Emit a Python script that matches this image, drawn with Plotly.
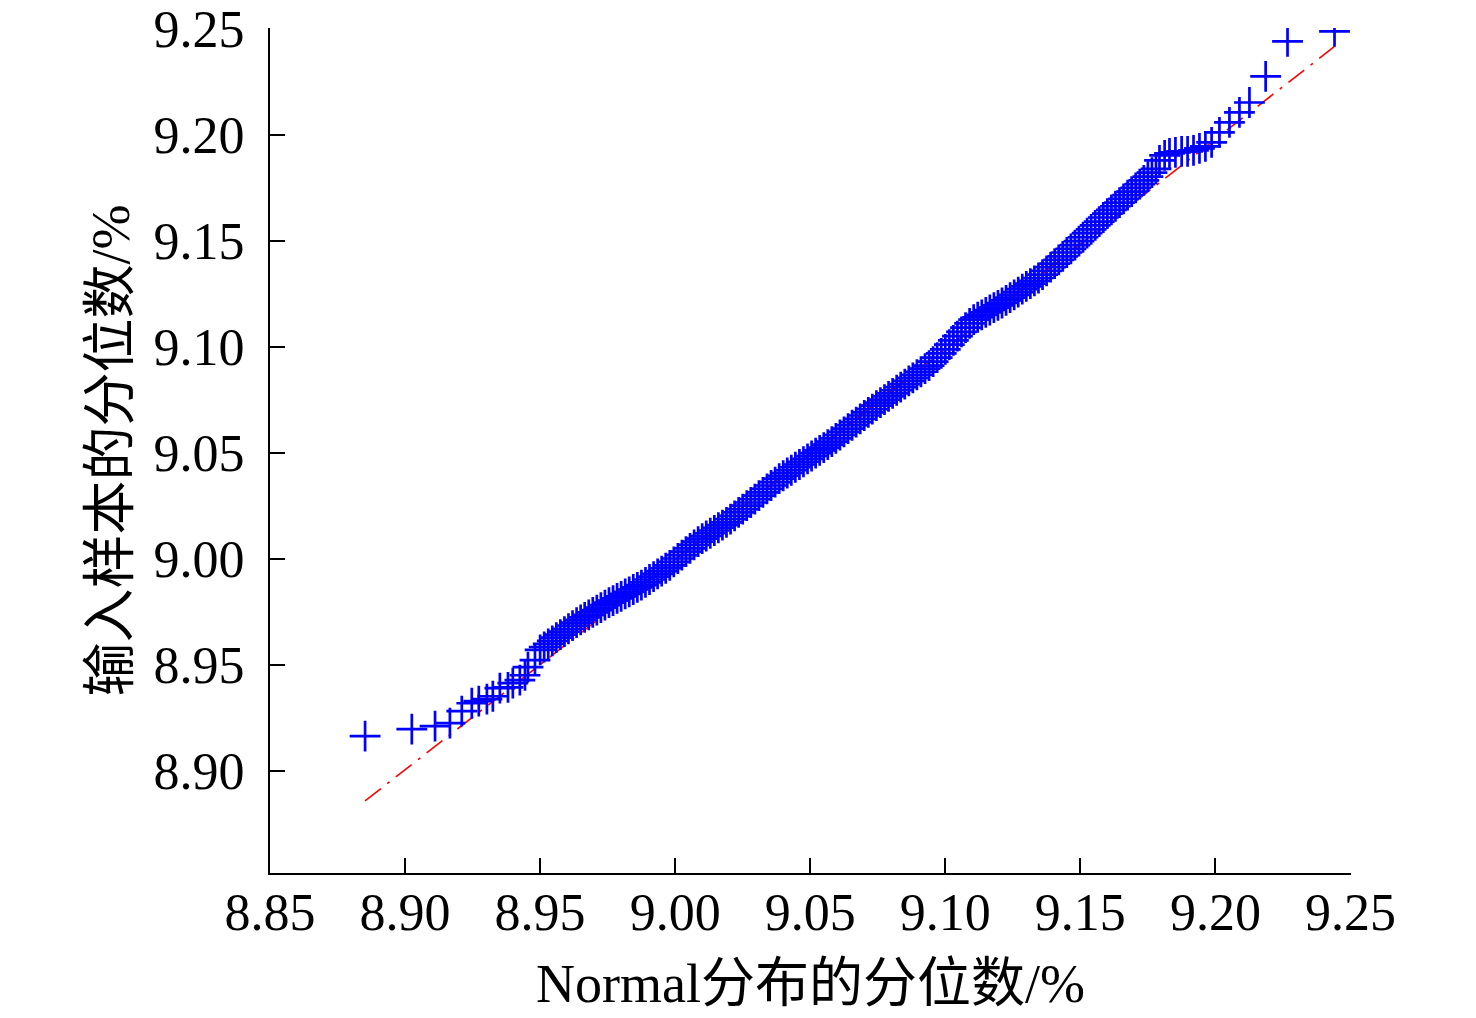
import plotly.graph_objects as go

# quantile pairs (x: normal quantile, y: sample quantile), in %
lower_x = [8.8852, 8.9025, 8.9111, 8.9166, 8.9210, 8.9247, 8.9273, 8.9303,
           8.9325, 8.9351, 8.9381, 8.9399, 8.9425, 8.9444, 8.9455, 8.9481]
lower_y = [8.9165, 8.9198, 8.9212, 8.9226, 8.9283, 8.9320, 8.9330, 8.9339,
           8.9353, 8.9391, 8.9395, 8.9415, 8.9429, 8.9452, 8.9490, 8.9523]

band_x = [8.9500, 8.9515, 8.9530, 8.9545, 8.9560, 8.9575, 8.9590, 8.9605, 8.9620, 8.9635,
          8.9650, 8.9665, 8.9680, 8.9695, 8.9710, 8.9725, 8.9740, 8.9755, 8.9770, 8.9785,
          8.9800, 8.9815, 8.9830, 8.9845, 8.9860, 8.9875, 8.9890, 8.9905, 8.9920, 8.9935,
          8.9950, 8.9965, 8.9980, 8.9995, 9.0010, 9.0025, 9.0040, 9.0055, 9.0070, 9.0085,
          9.0100, 9.0115, 9.0130, 9.0145, 9.0160, 9.0175, 9.0190, 9.0205, 9.0220, 9.0235,
          9.0250, 9.0265, 9.0280, 9.0295, 9.0310, 9.0325, 9.0340, 9.0355, 9.0370, 9.0385,
          9.0400, 9.0415, 9.0430, 9.0445, 9.0460, 9.0475, 9.0490, 9.0505, 9.0520, 9.0535,
          9.0550, 9.0565, 9.0580, 9.0595, 9.0610, 9.0625, 9.0640, 9.0655, 9.0670, 9.0685,
          9.0700, 9.0715, 9.0730, 9.0745, 9.0760, 9.0775, 9.0790, 9.0805, 9.0820, 9.0835,
          9.0850, 9.0865, 9.0880, 9.0895, 9.0910, 9.0925, 9.0940, 9.0955, 9.0970, 9.0985,
          9.1000, 9.1015, 9.1030, 9.1045, 9.1060, 9.1075, 9.1090, 9.1105, 9.1120, 9.1135,
          9.1150, 9.1165, 9.1180, 9.1195, 9.1210, 9.1225, 9.1240, 9.1255, 9.1270, 9.1285,
          9.1300, 9.1315, 9.1330, 9.1345, 9.1360, 9.1375, 9.1390, 9.1405, 9.1420, 9.1435,
          9.1450, 9.1465, 9.1480, 9.1495, 9.1510, 9.1525, 9.1540, 9.1555, 9.1570, 9.1585,
          9.1600, 9.1615, 9.1630, 9.1645, 9.1660, 9.1675, 9.1690, 9.1705, 9.1720, 9.1735,
          9.1750, 9.1765, 9.1780]
band_y = [8.9571, 8.9585, 8.9600, 8.9614, 8.9629, 8.9643, 8.9657, 8.9671, 8.9686, 8.9700,
          8.9713, 8.9725, 8.9736, 8.9748, 8.9759, 8.9771, 8.9782, 8.9794, 8.9804, 8.9814,
          8.9824, 8.9835, 8.9845, 8.9856, 8.9866, 8.9877, 8.9890, 8.9903, 8.9917, 8.9930,
          8.9943, 8.9956, 8.9970, 8.9986, 9.0002, 9.0018, 9.0034, 9.0050, 9.0066, 9.0082,
          9.0096, 9.0108, 9.0121, 9.0134, 9.0147, 9.0159, 9.0172, 9.0188, 9.0203, 9.0219,
          9.0235, 9.0251, 9.0266, 9.0282, 9.0298, 9.0314, 9.0330, 9.0346, 9.0362, 9.0378,
          9.0392, 9.0405, 9.0418, 9.0432, 9.0445, 9.0458, 9.0472, 9.0485, 9.0499, 9.0512,
          9.0525, 9.0539, 9.0553, 9.0568, 9.0584, 9.0599, 9.0614, 9.0630, 9.0645, 9.0660,
          9.0676, 9.0691, 9.0706, 9.0722, 9.0737, 9.0751, 9.0766, 9.0780, 9.0795, 9.0810,
          9.0824, 9.0839, 9.0853, 9.0868, 9.0882, 9.0897, 9.0911, 9.0930, 9.0949, 9.0969,
          9.0988, 9.1010, 9.1030, 9.1050, 9.1070, 9.1090, 9.1110, 9.1128, 9.1139, 9.1150,
          9.1162, 9.1173, 9.1184, 9.1195, 9.1206, 9.1218, 9.1231, 9.1244, 9.1257, 9.1271,
          9.1284, 9.1297, 9.1310, 9.1324, 9.1340, 9.1357, 9.1375, 9.1392, 9.1409, 9.1426,
          9.1444, 9.1461, 9.1479, 9.1498, 9.1516, 9.1535, 9.1553, 9.1572, 9.1590, 9.1609,
          9.1627, 9.1645, 9.1662, 9.1679, 9.1697, 9.1714, 9.1731, 9.1749, 9.1766, 9.1784,
          9.1802, 9.1820, 9.1838]

upper_x = [9.1793, 9.1812, 9.1830, 9.1852, 9.1875, 9.1897, 9.1919, 9.1941,
           9.1963, 9.1986, 9.2015, 9.2052, 9.2089, 9.2126, 9.2186, 9.2267, 9.2441]
upper_y = [9.1878, 9.1902, 9.1911, 9.1916, 9.1921, 9.1921, 9.1925, 9.1935,
           9.1944, 9.1963, 9.2010, 9.2057, 9.2104, 9.2151, 9.2274, 9.2439, 9.2486]

# reference line of the Q-Q plot (end points)
ref_x = [8.8852, 9.2441]
ref_y = [8.8860, 9.2415]

x_ticks = [8.85, 8.90, 8.95, 9.00, 9.05, 9.10, 9.15, 9.20, 9.25]
y_ticks = [8.90, 8.95, 9.00, 9.05, 9.10, 9.15, 9.20, 9.25]

sample_x = lower_x + band_x + upper_x
sample_y = lower_y + band_y + upper_y

FONT = "Liberation Serif, Noto Sans CJK SC, serif"

fig = go.Figure()

fig.add_trace(go.Scatter(
    x=ref_x, y=ref_y, mode="lines",
    line=dict(color="#FF0000", width=1.6, dash="20px,8px,3px,8px"),
    showlegend=False,
))

fig.add_trace(go.Scatter(
    x=sample_x, y=sample_y, mode="markers",
    marker=dict(symbol="cross-thin", size=22,
                line=dict(color="#0000FF", width=2.7)),
    showlegend=False,
))

axis_style = dict(
    showline=True, linewidth=2, linecolor="black", mirror=False,
    ticks="inside", ticklen=15, tickwidth=2, tickcolor="black",
    showgrid=False, zeroline=False, automargin=False,
    ticklabeloverflow="allow",
    tickfont=dict(family=FONT, size=52, color="black"),
    tickformat=".2f",
)

fig.update_layout(
    width=1476, height=1018,
    margin=dict(l=262, r=133, t=20, b=153),
    paper_bgcolor="white", plot_bgcolor="white",
    xaxis=dict(range=[8.85, 9.2502], tickvals=x_ticks, ticklabelstandoff=-7,
               title=dict(text="Normal分布的分位数/%", standoff=24,
                          font=dict(family=FONT, size=54, color="black")),
               **axis_style),
    yaxis=dict(range=[8.852, 9.2502], tickvals=y_ticks, ticklabelstandoff=13,
               title=dict(text="输入样本的分位数/%", standoff=7,
                          font=dict(family=FONT, size=54, color="black")),
               **axis_style),
)

fig.write_html("out.html")
